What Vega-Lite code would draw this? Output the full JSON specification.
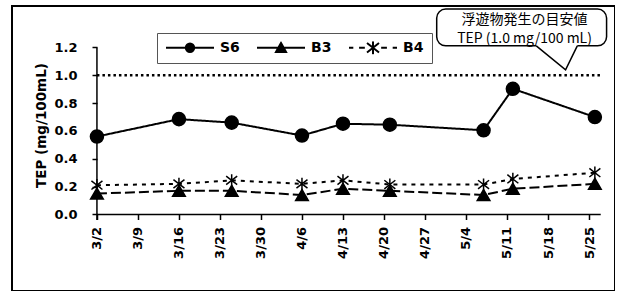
{
  "$schema": "https://vega.github.io/schema/vega-lite/v6.json",
  "width": 603,
  "height": 285,
  "autosize": "none",
  "padding": {"left": 12, "top": 6, "right": 0, "bottom": 0},
  "background": "white",
  "config": {
    "view": {"stroke": "black", "strokeWidth": 2},
    "axis": {"labelColor": "black", "tickColor": "black", "titleColor": "black", "grid": false}
  },
  "datasets": {
    "tep": [
      {"series": "S6", "date": "2009/03/02", "value": 0.56},
      {"series": "S6", "date": "2009/03/16", "value": 0.685},
      {"series": "S6", "date": "2009/03/25", "value": 0.66},
      {"series": "S6", "date": "2009/04/06", "value": 0.567},
      {"series": "S6", "date": "2009/04/13", "value": 0.652},
      {"series": "S6", "date": "2009/04/21", "value": 0.645},
      {"series": "S6", "date": "2009/05/07", "value": 0.605},
      {"series": "S6", "date": "2009/05/12", "value": 0.903},
      {"series": "S6", "date": "2009/05/26", "value": 0.70},
      {"series": "B3", "date": "2009/03/02", "value": 0.15},
      {"series": "B3", "date": "2009/03/16", "value": 0.17},
      {"series": "B3", "date": "2009/03/25", "value": 0.17},
      {"series": "B3", "date": "2009/04/06", "value": 0.14},
      {"series": "B3", "date": "2009/04/13", "value": 0.185},
      {"series": "B3", "date": "2009/04/21", "value": 0.17},
      {"series": "B3", "date": "2009/05/07", "value": 0.14},
      {"series": "B3", "date": "2009/05/12", "value": 0.185},
      {"series": "B3", "date": "2009/05/26", "value": 0.22},
      {"series": "B4", "date": "2009/03/02", "value": 0.21},
      {"series": "B4", "date": "2009/03/16", "value": 0.22},
      {"series": "B4", "date": "2009/03/25", "value": 0.245},
      {"series": "B4", "date": "2009/04/06", "value": 0.22},
      {"series": "B4", "date": "2009/04/13", "value": 0.245},
      {"series": "B4", "date": "2009/04/21", "value": 0.215},
      {"series": "B4", "date": "2009/05/07", "value": 0.215},
      {"series": "B4", "date": "2009/05/12", "value": 0.255},
      {"series": "B4", "date": "2009/05/26", "value": 0.30}
    ],
    "axislines": [
      {"date": "2009/03/02", "date2": "2009/03/02", "y": -0.04, "y2": 1.2},
      {"date": "2009/03/02", "date2": "2009/05/27", "y": 0, "y2": 0}
    ],
    "guide": [
      {"date": "2009/03/02", "date2": "2009/05/27", "value": 1.0}
    ],
    "box": [
      {"date": "2009/04/29", "date2": "2009/05/28", "y": 1.212, "y2": 1.476}
    ],
    "gap": [
      {"date": "2009/05/16", "date2": "2009/05/23", "y": 1.212}
    ],
    "tail": [
      {"date": "2009/05/16", "y": 1.212},
      {"date": "2009/05/21", "y": 1.04},
      {"date": "2009/05/23", "y": 1.212}
    ],
    "notes": [
      {"date": "2009/05/14", "y": 1.397, "text": "浮遊物発生の目安値"},
      {"date": "2009/05/14", "y": 1.262, "text": "TEP (1.0 mg/100 mL)"}
    ]
  },
  "layer": [
    {
      "data": {"name": "tep"},
      "mark": {"type": "line", "color": "black", "strokeWidth": 2},
      "encoding": {
        "x": {
          "field": "date", "type": "temporal",
          "scale": {"domain": [
            {"year": 2009, "month": 2, "date": 15, "hours": 12},
            {"year": 2009, "month": 5, "date": 29, "hours": 10, "minutes": 30}
          ]},
          "axis": {
            "title": null, "offset": -76.5, "domain": false, "grid": false,
            "values": [
              {"year": 2009, "month": 3, "date": 2},
              {"year": 2009, "month": 3, "date": 9},
              {"year": 2009, "month": 3, "date": 16},
              {"year": 2009, "month": 3, "date": 23},
              {"year": 2009, "month": 3, "date": 30},
              {"year": 2009, "month": 4, "date": 6},
              {"year": 2009, "month": 4, "date": 13},
              {"year": 2009, "month": 4, "date": 20},
              {"year": 2009, "month": 4, "date": 27},
              {"year": 2009, "month": 5, "date": 4},
              {"year": 2009, "month": 5, "date": 11},
              {"year": 2009, "month": 5, "date": 18},
              {"year": 2009, "month": 5, "date": 25}
            ],
            "format": "%-m/%-d", "labelAngle": 270, "tickSize": 5, "tickWidth": 1.5,
            "labelPadding": 7, "labelFont": "DejaVu Sans", "labelFontWeight": "bold",
            "labelFontSize": 13, "labelOverlap": false, "labelFlush": false
          }
        },
        "y": {
          "field": "value", "type": "quantitative",
          "scale": {"domain": [-0.55, 1.498], "nice": false, "zero": false},
          "axis": {
            "title": "TEP (mg/100mL)", "offset": -85, "domain": false, "grid": false,
            "values": [0, 0.2, 0.4, 0.6, 0.8, 1.0, 1.2], "format": ".1f",
            "tickSize": 5, "tickWidth": 1.5, "labelPadding": 15,
            "labelFont": "DejaVu Sans", "labelFontWeight": "bold", "labelFontSize": 13,
            "titleFont": "DejaVu Sans", "titleFontWeight": "bold", "titleFontSize": 13.5,
            "titleX": -56, "titleY": 119, "titleAngle": 270, "titleAlign": "center",
            "titleBaseline": "middle", "labelFlush": false
          }
        },
        "strokeDash": {
          "field": "series", "type": "nominal", "legend": null,
          "scale": {"domain": ["S6", "B3", "B4"], "range": [[1, 0], [10, 4], [4, 5]]}
        }
      }
    },
    {
      "data": {"name": "axislines"},
      "mark": {"type": "rule", "color": "black", "strokeWidth": 1.5},
      "encoding": {
        "x": {"field": "date", "type": "temporal"},
        "x2": {"field": "date2"},
        "y": {"field": "y", "type": "quantitative"},
        "y2": {"field": "y2"}
      }
    },
    {
      "data": {"name": "guide"},
      "mark": {"type": "rule", "color": "black", "strokeWidth": 2.5, "strokeDash": [2.5, 3]},
      "encoding": {
        "x": {"field": "date", "type": "temporal"},
        "x2": {"field": "date2"},
        "y": {"field": "value", "type": "quantitative"}
      }
    },
    {
      "data": {"name": "tep"},
      "mark": {"type": "point", "fill": "black", "stroke": "black", "strokeWidth": 1.5, "opacity": 1, "filled": false, "fillOpacity": 1},
      "encoding": {
        "x": {"field": "date", "type": "temporal"},
        "y": {"field": "value", "type": "quantitative"},
        "shape": {
          "field": "series", "type": "nominal", "legend": null,
          "scale": {"domain": ["S6", "B3", "B4"], "range": ["circle", "triangle-up", "M0,-1L0,1M-0.9,-0.7L0.9,0.7M-0.9,0.7L0.9,-0.7"]}
        },
        "size": {
          "field": "series", "type": "nominal", "legend": null,
          "scale": {"domain": ["S6", "B3", "B4"], "range": [170, 150, 190]}
        }
      }
    },
    {
      "data": {"name": "tep"},
      "mark": {"type": "point", "filled": false, "stroke": "black", "strokeWidth": 2, "opacity": 0},
      "encoding": {
        "x": {"field": "date", "type": "temporal"},
        "y": {"field": "value", "type": "quantitative"},
        "shape": {
          "field": "series", "type": "nominal",
          "scale": {"domain": ["S6", "B3", "B4"], "range": [
            "M-1,0L1,0M-0.175,0A0.175,0.175,0,1,1,0.175,0A0.175,0.175,0,1,1,-0.175,0ZM-0.1,0A0.1,0.1,0,1,1,0.1,0A0.1,0.1,0,1,1,-0.1,0ZM-0.03,0A0.03,0.03,0,1,1,0.03,0A0.03,0.03,0,1,1,-0.03,0Z",
            "M-1,0L1,0M-0.21,0.18L0.21,0.18L0,-0.2ZM-0.13,0.132L0.13,0.132L0,-0.104ZM-0.059,0.089L0.059,0.089L0,-0.018Z",
            "M-1,0L-0.82,0M-0.58,0L-0.34,0M0.34,0L0.58,0M0.82,0L1,0M0,-0.27L0,0.27M-0.25,-0.2L0.25,0.2M-0.25,0.2L0.25,-0.2"
          ]},
          "legend": {
            "title": null, "orient": "none", "legendX": 145, "legendY": 27,
            "direction": "horizontal", "symbolSize": 2304, "symbolStrokeWidth": 2,
            "symbolStrokeColor": "black", "symbolOpacity": 1,
            "labelFont": "DejaVu Sans", "labelFontWeight": "bold", "labelFontSize": 14,
            "labelColor": "black", "labelOffset": 5, "columnPadding": 16, "padding": 8,
            "strokeColor": "#555", "clipHeight": 13
          }
        }
      }
    },
    {
      "data": {"name": "box"},
      "mark": {"type": "rect", "fill": "white", "stroke": "black", "strokeWidth": 1.5, "cornerRadius": 9},
      "encoding": {
        "x": {"field": "date", "type": "temporal"},
        "x2": {"field": "date2"},
        "y": {"field": "y", "type": "quantitative"},
        "y2": {"field": "y2"}
      }
    },
    {
      "data": {"name": "gap"},
      "mark": {"type": "rule", "color": "white", "strokeWidth": 3},
      "encoding": {
        "x": {"field": "date", "type": "temporal"},
        "x2": {"field": "date2"},
        "y": {"field": "y", "type": "quantitative"}
      }
    },
    {
      "data": {"name": "tail"},
      "mark": {"type": "line", "color": "black", "strokeWidth": 1.5},
      "encoding": {
        "x": {"field": "date", "type": "temporal"},
        "y": {"field": "y", "type": "quantitative"}
      }
    },
    {
      "data": {"name": "notes"},
      "mark": {"type": "text", "font": "Noto Sans CJK JP", "fontSize": 14, "color": "black", "align": "center", "baseline": "middle"},
      "encoding": {
        "x": {"field": "date", "type": "temporal"},
        "y": {"field": "y", "type": "quantitative"},
        "text": {"field": "text"}
      }
    }
  ],
  "resolve": {"scale": {"shape": "independent", "size": "independent"}}
}
